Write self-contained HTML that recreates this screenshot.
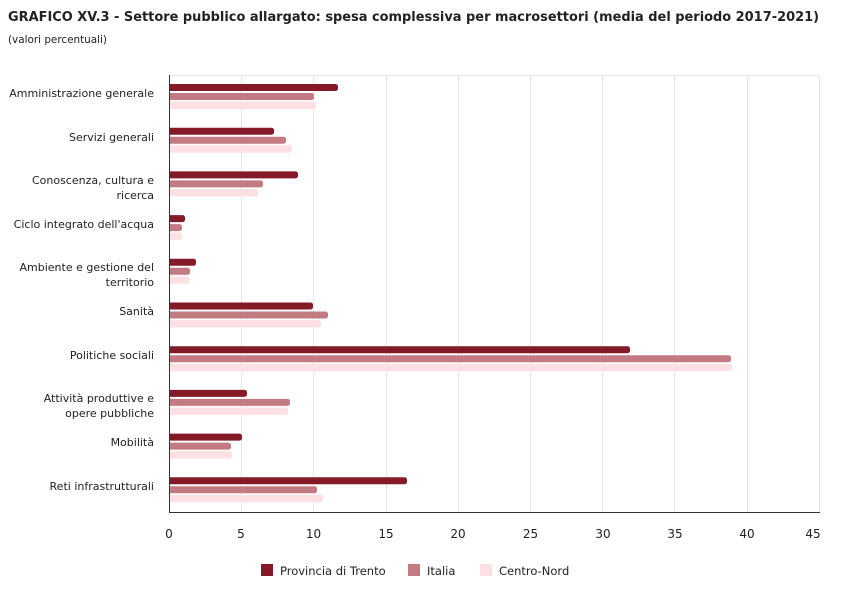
<!DOCTYPE html>
<html><head><meta charset="utf-8"><style>body{margin:0;background:#fff}svg{display:block}text{font-family:"DejaVu Sans","Liberation Sans",sans-serif;fill:#222}</style></head><body>
<svg width="850" height="600" viewBox="0 0 850 600" xmlns="http://www.w3.org/2000/svg">
<text x="8" y="21" font-size="13.5" font-weight="bold" fill="#000" textLength="811" lengthAdjust="spacingAndGlyphs">GRAFICO XV.3 - Settore pubblico allargato: spesa complessiva per macrosettori (media del periodo 2017-2021)</text>
<text x="8" y="43" font-size="11" textLength="99" lengthAdjust="spacingAndGlyphs">(valori percentuali)</text>
<g stroke="#e6e6e6" stroke-width="1">
<line x1="169" y1="75.5" x2="820" y2="75.5"/>
<line x1="241.5" y1="75" x2="241.5" y2="512"/><line x1="313.5" y1="75" x2="313.5" y2="512"/><line x1="386.5" y1="75" x2="386.5" y2="512"/><line x1="458.5" y1="75" x2="458.5" y2="512"/><line x1="530.5" y1="75" x2="530.5" y2="512"/><line x1="602.5" y1="75" x2="602.5" y2="512"/><line x1="674.5" y1="75" x2="674.5" y2="512"/><line x1="747.5" y1="75" x2="747.5" y2="512"/><line x1="819.5" y1="75" x2="819.5" y2="512"/>
</g>
<g id="bars">
<g fill="#841a28">
<rect x="167" y="84" width="171" height="7" rx="2.5"/>
<rect x="167" y="127.7" width="107" height="7" rx="2.5"/>
<rect x="167" y="171.4" width="131" height="7" rx="2.5"/>
<rect x="167" y="215.1" width="18" height="7" rx="2.5"/>
<rect x="167" y="258.8" width="29" height="7" rx="2.5"/>
<rect x="167" y="302.5" width="146" height="7" rx="2.5"/>
<rect x="167" y="346.2" width="463" height="7" rx="2.5"/>
<rect x="167" y="389.9" width="80" height="7" rx="2.5"/>
<rect x="167" y="433.6" width="75" height="7" rx="2.5"/>
<rect x="167" y="477.3" width="240" height="7" rx="2.5"/>
</g>
<g fill="#c27b82">
<rect x="167" y="93" width="147" height="7" rx="2.5"/>
<rect x="167" y="136.7" width="119" height="7" rx="2.5"/>
<rect x="167" y="180.4" width="96" height="7" rx="2.5"/>
<rect x="167" y="224.1" width="15" height="7" rx="2.5"/>
<rect x="167" y="267.8" width="23" height="7" rx="2.5"/>
<rect x="167" y="311.5" width="161" height="7" rx="2.5"/>
<rect x="167" y="355.2" width="564" height="7" rx="2.5"/>
<rect x="167" y="398.9" width="123" height="7" rx="2.5"/>
<rect x="167" y="442.6" width="64" height="7" rx="2.5"/>
<rect x="167" y="486.3" width="150" height="7" rx="2.5"/>
</g>
<g fill="#fde0e3">
<rect x="167" y="101.5" width="149" height="7.5" rx="2.5"/>
<rect x="167" y="145.2" width="125" height="7.5" rx="2.5"/>
<rect x="167" y="188.9" width="91" height="7.5" rx="2.5"/>
<rect x="167" y="232.6" width="15" height="7.5" rx="2.5"/>
<rect x="167" y="276.3" width="22" height="7.5" rx="2.5"/>
<rect x="167" y="320" width="154" height="7.5" rx="2.5"/>
<rect x="167" y="363.7" width="565" height="7.5" rx="2.5"/>
<rect x="167" y="407.4" width="121" height="7.5" rx="2.5"/>
<rect x="167" y="451.1" width="65" height="7.5" rx="2.5"/>
<rect x="167" y="494.8" width="156" height="7.5" rx="2.5"/>
</g>
</g>
<rect x="160" y="75" width="9" height="440" fill="#fff"/>
<line x1="169.5" y1="75" x2="169.5" y2="512" stroke="#333" stroke-width="1"/>
<line x1="169" y1="512.5" x2="820" y2="512.5" stroke="#333" stroke-width="1"/>
<g font-size="11" text-anchor="end">
<text x="154" y="97">Amministrazione generale</text>
<text x="154" y="141">Servizi generali</text>
<text x="154" y="184">Conoscenza, cultura e</text><text x="154" y="199">ricerca</text>
<text x="154" y="228">Ciclo integrato dell'acqua</text>
<text x="154" y="271">Ambiente e gestione del</text><text x="154" y="286">territorio</text>
<text x="154" y="315">Sanità</text>
<text x="154" y="359">Politiche sociali</text>
<text x="154" y="402">Attività produttive e</text><text x="154" y="417">opere pubbliche</text>
<text x="154" y="446">Mobilità</text>
<text x="154" y="490">Reti infrastrutturali</text>
</g>
<g font-size="12" text-anchor="middle">
<text x="169" y="538">0</text><text x="241" y="538">5</text><text x="313.5" y="538">10</text><text x="386" y="538">15</text><text x="458" y="538">20</text><text x="530.5" y="538">25</text><text x="603" y="538">30</text><text x="675" y="538">35</text><text x="747" y="538">40</text><text x="813" y="538">45</text>
</g>
<g font-size="11.5">
<rect x="261" y="564" width="12" height="12" fill="#841a28"/><text x="280" y="575">Provincia di Trento</text>
<rect x="408" y="564" width="12" height="12" fill="#c27b82"/><text x="427" y="575">Italia</text>
<rect x="480" y="564" width="12" height="12" fill="#fde0e3"/><text x="499" y="575">Centro-Nord</text>
</g>
</svg>
</body></html>
